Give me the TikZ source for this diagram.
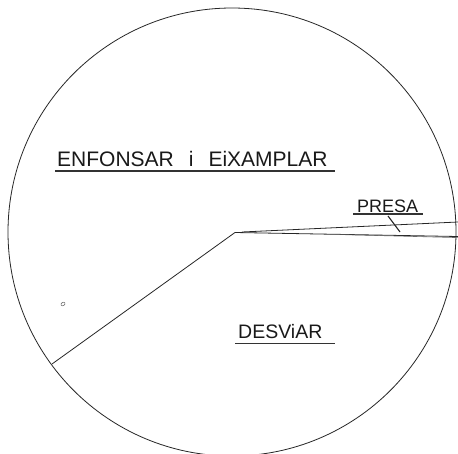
\documentclass[tikz,border=0pt]{standalone}
\usepackage{fontspec}
\setmainfont{Liberation Sans}
\begin{document}
\begin{tikzpicture}[x=1pt,y=-1pt,
  ink/.style={draw=black!85,line width=0.8pt},
  lbl/.style={text=black!90, inner sep=0pt, anchor=base west},
  uline/.style={draw=black!80,line width=1.1pt}]
\useasboundingbox (0,0) rectangle (458,453);
\clip (0,0) rectangle (458,453);
% outline circle
\coordinate (C) at (232,232);
\draw[ink] (C) circle[radius=224];
% dam profile
\coordinate (toe) at (52,364);
\coordinate (crest) at (235,232.5);
\coordinate (upR) at (458,222);
\coordinate (loR) at (458,236.5);
\coordinate (up0) at (242,232);
\draw[ink] (toe) -- (crest) -- (loR);
\draw[ink] (up0) -- (upR);
\draw[draw=black!60,line width=0.6pt] (330,234.3) -- (458,237.6);
% labels
\node[lbl,font=\fontsize{21}{21}\selectfont] (t1) at (57,166) {ENFONSAR\hspace{15pt}i\hspace{15pt}EiXAMPLAR};
\draw[uline] (55,171) -- (335,171);
\node[lbl,font=\fontsize{18}{18}\selectfont] (t2) at (357,212) {PRESA};
\draw[uline] (353,214) -- (423,214);
\coordinate (tk1) at (388,216);
\coordinate (tk2) at (400,232);
\draw[draw=black!85,line width=1.1pt] (tk1) -- (tk2);
\node[lbl,font=\fontsize{19.5}{19.5}\selectfont] (t3) at (238,338) {DESViAR};
\draw[uline] (235,343.5) -- (335,343.5);
% small mark
\draw[draw=black!55,line width=0.6pt,rotate around={30:(63,304)}] (63,304) ellipse[x radius=2.2,y radius=1.6];
\end{tikzpicture}
\end{document}
